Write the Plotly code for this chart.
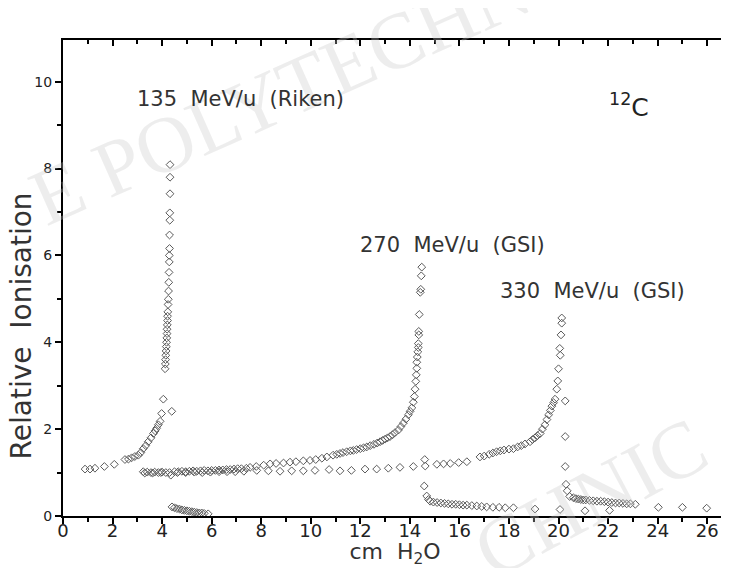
import plotly.graph_objects as go

# ---- data ----
x_135 = [0.89, 1.09, 1.29, 1.67, 2.07, 2.5, 2.64, 2.77, 2.9, 3.04, 3.14, 3.24, 3.34, 3.44, 3.55, 3.65,
         3.72, 3.78, 3.85, 3.92, 3.98, 4.05,
         4.12, 4.13, 4.14, 4.15, 4.16, 4.17, 4.18, 4.19, 4.2, 4.2, 4.21, 4.22, 4.22, 4.23, 4.24, 4.25,
         4.26, 4.27, 4.28, 4.29, 4.29, 4.3, 4.3, 4.31, 4.31, 4.32, 4.32, 4.32,
         4.39,
         4.4, 4.5, 4.6, 4.7, 4.8, 4.9, 5.0, 5.1, 5.2, 5.3, 5.4, 5.5, 5.6, 5.7, 5.86]
y_135 = [1.08, 1.08, 1.1, 1.14, 1.19, 1.3, 1.31, 1.34, 1.37, 1.4, 1.46, 1.55, 1.62, 1.71, 1.8, 1.9,
         1.96, 2.02, 2.1, 2.18, 2.36, 2.69,
         3.39, 3.5, 3.6, 3.7, 3.8, 3.9, 4.0, 4.1, 4.2, 4.3, 4.4, 4.5, 4.6, 4.7, 4.87, 4.99,
         5.18, 5.38, 5.61, 5.85, 6.0, 6.16, 6.47, 6.81, 6.98, 7.42, 7.8, 8.09,
         2.41,
         0.21, 0.19, 0.17, 0.16, 0.14, 0.13, 0.12, 0.11, 0.1, 0.09, 0.08, 0.07, 0.07, 0.06, 0.05]

x_270 = [3.24, 3.4, 3.55, 3.7, 3.85, 4.0, 4.15, 4.35, 4.5, 4.65, 4.8, 4.95, 5.1, 5.25, 5.4, 5.55,
         5.7, 5.85, 6.0, 6.15, 6.3, 6.45, 6.6, 6.75, 6.9, 7.05, 7.2, 7.4, 7.55, 7.8, 8.1, 8.36,
         8.6, 8.9, 9.16, 9.4, 9.7, 9.97, 10.2, 10.45, 10.65, 10.9, 11.05, 11.18, 11.3, 11.45,
         11.6, 11.72, 11.85, 12.0, 12.13, 12.26, 12.4, 12.55, 12.68, 12.8, 12.9, 13.0, 13.1,
         13.2, 13.3, 13.4, 13.54, 13.64, 13.74, 13.84, 13.94, 14.01, 14.08, 14.14, 14.18,
         14.21, 14.24, 14.26, 14.28, 14.28, 14.3, 14.32, 14.34, 14.34, 14.36, 14.36, 14.38,
         14.42, 14.44, 14.46, 14.48,
         14.58, 14.68,
         14.75, 14.82, 14.95, 15.1, 15.25, 15.4, 15.55, 15.7, 15.85, 16.0, 16.15, 16.3, 16.5,
         16.7, 16.9, 17.1, 17.35, 17.6, 17.85, 18.18, 19.05, 20.06, 21.07, 22.06, 24.03, 25.0, 25.98]
y_270 = [1.02, 1.01, 1.0, 1.01, 1.0, 1.01, 1.0, 0.94, 1.02, 1.02, 1.03, 1.02, 1.03, 1.04, 1.03, 1.04,
         1.05, 1.04, 1.05, 1.05, 1.06, 1.06, 1.07, 1.07, 1.08, 1.09, 1.09, 1.1, 1.12, 1.14, 1.17, 1.2,
         1.21, 1.22, 1.24, 1.25, 1.27, 1.28, 1.3, 1.33, 1.36, 1.4, 1.42, 1.44, 1.46, 1.48,
         1.5, 1.51, 1.53, 1.55, 1.57, 1.59, 1.62, 1.65, 1.68, 1.71, 1.74, 1.77, 1.8,
         1.83, 1.87, 1.92, 1.98, 2.06, 2.14, 2.23, 2.33, 2.41, 2.49, 2.62, 2.75,
         2.92, 3.1, 3.25, 3.4, 3.54, 3.66, 3.78, 3.88, 3.97, 4.17, 4.25, 4.64,
         5.15, 5.22, 5.53, 5.73,
         0.69, 0.46,
         0.38, 0.34, 0.32, 0.31, 0.3, 0.29, 0.28, 0.27, 0.27, 0.26, 0.25, 0.25, 0.24,
         0.23, 0.22, 0.21, 0.2, 0.2, 0.19, 0.19, 0.16, 0.15, 0.12, 0.13, 0.2, 0.2, 0.18]

x_330 = [3.3, 3.62, 3.95, 4.3, 4.62, 4.95, 5.3, 5.62, 5.95, 6.3, 6.62, 6.95, 7.3, 7.82, 8.29, 8.76,
         9.23, 9.7, 10.17, 10.74, 11.18, 11.64, 12.19, 12.66, 13.13, 13.6, 14.14, 14.6, 14.62,
         15.09, 15.36, 15.63, 15.97, 16.3, 16.83, 17.0, 17.2, 17.35, 17.5, 17.65, 17.8, 18.0,
         18.18, 18.35, 18.5, 18.65, 18.85, 18.95, 19.05, 19.15, 19.26, 19.35, 19.45, 19.53,
         19.6, 19.67, 19.73, 19.8, 19.86, 19.93, 19.97, 20.0, 20.07, 20.05, 20.1, 20.13, 20.13,
         20.27, 20.27, 20.27, 20.3, 20.35,
         20.45, 20.6, 20.7, 20.8, 20.9, 21.0, 21.1, 21.25, 21.4, 21.55, 21.7, 21.85, 22.0,
         22.15, 22.3, 22.45, 22.6, 22.75, 22.9, 23.1]
y_330 = [0.99, 0.99, 1.0, 1.0, 1.0, 1.0, 1.01, 1.0, 1.01, 1.02, 1.02, 1.02, 1.03, 1.05, 1.04, 1.03,
         1.04, 1.04, 1.05, 1.07, 1.04, 1.05, 1.08, 1.08, 1.1, 1.12, 1.14, 1.3, 1.15,
         1.19, 1.2, 1.21, 1.23, 1.25, 1.36, 1.38, 1.42, 1.45, 1.48, 1.5, 1.52, 1.54,
         1.55, 1.59, 1.62, 1.66, 1.71, 1.76, 1.8, 1.85, 1.9, 2.0, 2.1, 2.22,
         2.33, 2.43, 2.53, 2.61, 2.69, 2.92, 3.11, 3.39, 3.7, 3.86, 4.17, 4.44, 4.56,
         2.65, 1.83, 1.14, 0.73, 0.58,
         0.45, 0.42, 0.4, 0.39, 0.38, 0.37, 0.37, 0.36, 0.35, 0.34, 0.34, 0.33, 0.32,
         0.31, 0.3, 0.3, 0.29, 0.28, 0.28, 0.27]

series_names = ["135  MeV/u  (Riken)", "270  MeV/u  (GSI)", "330  MeV/u  (GSI)"]
label_x = [2.91, 11.91, 17.56]
label_y = [9.6, 6.23, 5.18]
x_ticks = list(range(0, 27, 2))
y_ticks = list(range(0, 11, 2))

FONT = "DejaVu Sans"
marker = dict(symbol="diamond-open", size=6, color="#5a5a5a", line=dict(width=1, color="#5a5a5a"))

fig = go.Figure()
for name, xs, ys in zip(series_names, [x_135, x_270, x_330], [y_135, y_270, y_330]):
    fig.add_trace(go.Scatter(x=xs, y=ys, mode="markers", name=name, marker=marker,
                             showlegend=False))
# empty trace so the mirrored top/right frame axes are drawn
fig.add_trace(go.Scatter(x=[None], y=[None], xaxis="x2", yaxis="y2", mode="markers",
                         showlegend=False, hoverinfo="skip"))

XR = [0, 26.8]
YR = [0, 10.96]
axis_common = dict(showgrid=False, zeroline=False, showline=True, linecolor="black", linewidth=2,
                   tickcolor="black", tickwidth=1.5, ticklen=6)

# the page body adds 8px of margin, so the figure is shifted by 8px right/down
fig.update_layout(
    width=721, height=560,
    margin=dict(l=55, r=2, t=32, b=52),
    paper_bgcolor="white", plot_bgcolor="white",
    font=dict(family=FONT, color="#222222"),
    xaxis=dict(range=XR, tickvals=x_ticks, ticks="outside", ticklabelstandoff=-9,
               tickfont=dict(size=18, family=FONT, color="#222"),
               minor=dict(dtick=1, ticks="outside", ticklen=4, tickcolor="black"),
               title=dict(text="cm  H<sub>2</sub>O", font=dict(size=22, family=FONT, color="#333"),
                          standoff=5),
               **axis_common),
    yaxis=dict(range=YR, tickvals=y_ticks, ticks="outside",
               tickfont=dict(size=14, family=FONT, color="#222"),
               minor=dict(dtick=1, ticks="outside", ticklen=4, tickcolor="black"),
               **axis_common),
    xaxis2=dict(range=XR, overlaying="x", side="top", anchor="y", tickvals=x_ticks,
                ticks="inside", showticklabels=False,
                minor=dict(dtick=1, ticks="inside", ticklen=4, tickcolor="black"),
                **axis_common),
    yaxis2=dict(range=YR, overlaying="y", side="right", anchor="x", tickvals=y_ticks,
                ticks="inside", showticklabels=False,
                minor=dict(dtick=1, ticks="inside", ticklen=4, tickcolor="black"),
                **axis_common),
)

# watermark text (light grey)
wm_font = dict(family="Liberation Serif", size=80, color="rgba(200,200,200,0.32)")
fig.add_annotation(text="E POLYTECHN", xref="paper", yref="paper", x=0.327, y=0.889,
                   xanchor="center", yanchor="middle", showarrow=False, textangle=-24, font=wm_font)
fig.add_annotation(text="CHNIC", xref="paper", yref="paper", x=0.794, y=0.038,
                   xanchor="center", yanchor="middle", showarrow=False, textangle=-28, font=wm_font)

ann_font = dict(family=FONT, size=21, color="#333333")
for name, lx, ly in zip(series_names, label_x, label_y):
    fig.add_annotation(text=name, x=lx, y=ly, xanchor="left", yanchor="middle",
                       showarrow=False, font=ann_font)
fig.add_annotation(text="<sup>12</sup>C", x=21.96, y=9.45, xanchor="left", yanchor="middle",
                   showarrow=False, font=dict(family=FONT, size=25, color="#222"))
fig.add_annotation(text="Relative  Ionisation", xref="paper", yref="paper", x=-0.062, y=0.40,
                   textangle=-90, showarrow=False, xanchor="center", yanchor="middle",
                   font=dict(family=FONT, size=28, color="#333"))

fig.write_html("out.html")
